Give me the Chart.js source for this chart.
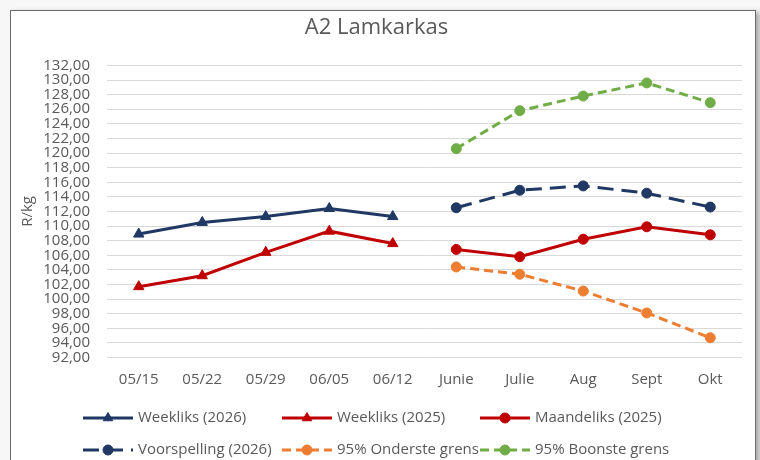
<!DOCTYPE html>
<html>
<head>
<meta charset="utf-8">
<script src="https://cdn.jsdelivr.net/npm/chart.js@4/dist/chart.umd.min.js"></script>
<style>
  html, body { margin: 0; padding: 0; background: #f7f7f7; overflow: hidden; }
  #frame {
    position: absolute; left: 10px; top: 10px;
    width: 744px; height: 470px;
    border: 1px solid #6b6b6b; background: #fff;
    box-shadow: 4px 2px 5px rgba(0,0,0,0.3);
  }
  #frame canvas { display: block; }
</style>
</head>
<body>
<div id="frame"><canvas id="chart" width="744" height="449"></canvas></div>
<script>
// categorieë en reekse, afgelees van die grafiek
const categories = ['05/15', '05/22', '05/29', '06/05', '06/12', 'Junie', 'Julie', 'Aug', 'Sept', 'Okt'];
const weekly2026 = [108.9, 110.5, 111.3, 112.4, 111.3, null, null, null, null, null];
const weekly2025 = [101.7, 103.2, 106.4, 109.3, 107.6, null, null, null, null, null];
const monthly2025 = [null, null, null, null, null, 106.8, 105.8, 108.2, 109.9, 108.8];
const forecast2026 = [null, null, null, null, null, 112.5, 114.9, 115.5, 114.5, 112.6];
const lower95 = [null, null, null, null, null, 104.4, 103.4, 101.1, 98.1, 94.7];
const upper95 = [null, null, null, null, null, 120.6, 125.8, 127.8, 129.6, 126.9];
const yMin = 92, yMax = 132, yStep = 2;

const NAVY = '#1f3864', RED = '#c00000', ORANGE = '#ed7d31', GREEN = '#70ad47';
const TEXT = '#595959';
const FONT = "'Open Sans', sans-serif";

function series(label, data, color, style, dash) {
  return {
    label: label,
    data: data,
    borderColor: color,
    backgroundColor: color,
    pointBackgroundColor: color,
    pointBorderColor: color,
    borderWidth: 3,
    borderDash: dash || [],
    pointStyle: style,
    pointRadius: style === 'triangle' ? 6 : 5,
    pointBorderWidth: 1,
    spanGaps: false,
    tension: 0
  };
}

// legende in 'n rooster, soos in Excel
const gridLegend = {
  id: 'gridLegend',
  afterDraw(chart) {
    const ctx = chart.ctx;
    const cols = [72, 271, 469];
    const rows = [407, 439];
    chart.data.datasets.forEach((ds, i) => {
      const x = cols[i % 3], y = rows[Math.floor(i / 3)];
      ctx.save();
      ctx.strokeStyle = ds.borderColor;
      ctx.lineWidth = 3;
      ctx.setLineDash(ds.borderDash);
      ctx.beginPath();
      ctx.moveTo(x, y);
      ctx.lineTo(x + 50, y);
      ctx.stroke();
      ctx.setLineDash([]);
      ctx.lineWidth = 1;
      ctx.fillStyle = ds.backgroundColor;
      const r = ds.pointStyle === 'triangle' ? 5.5 : 5;
      Chart.helpers.drawPoint(ctx, {pointStyle: ds.pointStyle, radius: r, rotation: 0, borderWidth: 1}, x + 25, y);
      ctx.fillStyle = TEXT;
      ctx.font = '15px ' + FONT;
      ctx.textBaseline = 'middle';
      ctx.fillText(ds.label, x + 55, y);
      ctx.restore();
    });
  }
};

new Chart(document.getElementById('chart'), {
  type: 'line',
  data: {
    labels: categories,
    datasets: [
      series('Weekliks (2026)', weekly2026, NAVY, 'triangle'),
      series('Weekliks (2025)', weekly2025, RED, 'triangle'),
      series('Maandeliks (2025)', monthly2025, RED, 'circle'),
      series('Voorspelling (2026)', forecast2026, NAVY, 'circle', [16, 8]),
      series('95% Onderste grens', lower95, ORANGE, 'circle', [9, 5]),
      series('95% Boonste grens', upper95, GREEN, 'circle', [9, 5])
    ]
  },
  options: {
    responsive: false,
    animation: false,
    layout: { padding: { left: 0, right: 13, top: 0, bottom: 71.5 } },
    plugins: {
      legend: { display: false },
      tooltip: { enabled: false },
      title: {
        display: true,
        text: 'A2 Lamkarkas',
        color: TEXT,
        font: { family: FONT, size: 22, weight: 'normal' },
        padding: { top: 4, bottom: 24 }
      }
    },
    scales: {
      x: {
        offset: true,
        grid: { display: false, drawTicks: false },
        border: { display: false },
        ticks: { color: TEXT, font: { family: FONT, size: 15 }, padding: 13, autoSkip: false, maxRotation: 0 },
        afterFit(scale) { scale.height = 31; }
      },
      y: {
        min: yMin,
        max: yMax,
        grid: { color: '#d9d9d9', lineWidth: 1, drawTicks: false },
        border: { display: false },
        ticks: {
          stepSize: yStep,
          autoSkip: false,
          color: TEXT,
          font: { family: FONT, size: 15 },
          padding: 17,
          callback: v => v.toFixed(2).replace('.', ',')
        },
        title: {
          display: true,
          text: 'R/kg',
          color: TEXT,
          font: { family: FONT, size: 15 },
          padding: { top: 8, bottom: 0 }
        },
        afterFit(scale) { scale.width = 96; }
      }
    }
  },
  plugins: [gridLegend]
});
</script>
</body>
</html>
